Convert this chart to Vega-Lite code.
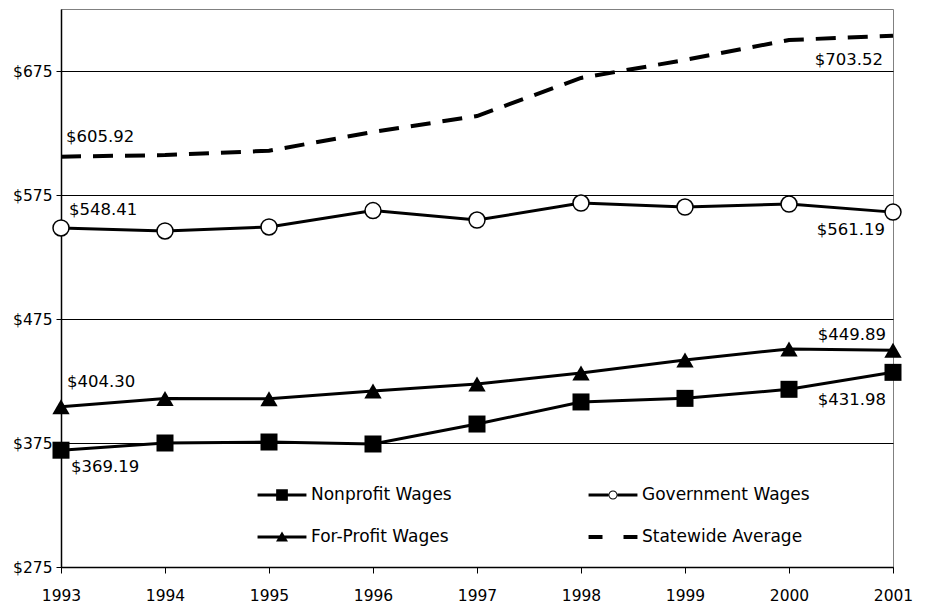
{
  "$schema": "https://vega.github.io/schema/vega-lite/v6.json",
  "autosize": {"type": "none"},
  "padding": {"left": 61, "top": 9, "right": 34, "bottom": 39},
  "width": 832,
  "height": 558,
  "background": "white",
  "config": {
    "font": "DejaVu Sans",
    "view": {"stroke": "#808080", "strokeWidth": 1},
    "axis": {"labelFont": "DejaVu Sans", "labelColor": "black", "domainColor": "black", "tickColor": "black", "titleFont": "DejaVu Sans"}
  },
  "data": {
    "values": [
      {"series": "Nonprofit Wages", "year": 1993, "value": 369.19},
      {"series": "Nonprofit Wages", "year": 1994, "value": 375.0},
      {"series": "Nonprofit Wages", "year": 1995, "value": 375.8},
      {"series": "Nonprofit Wages", "year": 1996, "value": 374.2},
      {"series": "Nonprofit Wages", "year": 1997, "value": 390.3},
      {"series": "Nonprofit Wages", "year": 1998, "value": 408.1},
      {"series": "Nonprofit Wages", "year": 1999, "value": 411.0},
      {"series": "Nonprofit Wages", "year": 2000, "value": 418.3},
      {"series": "Nonprofit Wages", "year": 2001, "value": 431.98},
      {"series": "Government Wages", "year": 1993, "value": 548.41},
      {"series": "Government Wages", "year": 1994, "value": 546.0},
      {"series": "Government Wages", "year": 1995, "value": 549.2},
      {"series": "Government Wages", "year": 1996, "value": 562.4},
      {"series": "Government Wages", "year": 1997, "value": 554.8},
      {"series": "Government Wages", "year": 1998, "value": 568.5},
      {"series": "Government Wages", "year": 1999, "value": 565.3},
      {"series": "Government Wages", "year": 2000, "value": 567.7},
      {"series": "Government Wages", "year": 2001, "value": 561.19},
      {"series": "For-Profit Wages", "year": 1993, "value": 404.30},
      {"series": "For-Profit Wages", "year": 1994, "value": 410.8},
      {"series": "For-Profit Wages", "year": 1995, "value": 410.7},
      {"series": "For-Profit Wages", "year": 1996, "value": 416.9},
      {"series": "For-Profit Wages", "year": 1997, "value": 422.6},
      {"series": "For-Profit Wages", "year": 1998, "value": 431.5},
      {"series": "For-Profit Wages", "year": 1999, "value": 441.9},
      {"series": "For-Profit Wages", "year": 2000, "value": 450.9},
      {"series": "For-Profit Wages", "year": 2001, "value": 449.89},
      {"series": "Statewide Average", "year": 1993, "value": 605.92},
      {"series": "Statewide Average", "year": 1994, "value": 607.2},
      {"series": "Statewide Average", "year": 1995, "value": 610.7},
      {"series": "Statewide Average", "year": 1996, "value": 625.8},
      {"series": "Statewide Average", "year": 1997, "value": 638.7},
      {"series": "Statewide Average", "year": 1998, "value": 669.4},
      {"series": "Statewide Average", "year": 1999, "value": 683.9},
      {"series": "Statewide Average", "year": 2000, "value": 700.0},
      {"series": "Statewide Average", "year": 2001, "value": 703.52}
    ]
  },
  "encoding": {
    "x": {
      "field": "year", "type": "quantitative",
      "scale": {"domain": [1993, 2001], "nice": false, "zero": false},
      "axis": {"title": null, "values": [1993, 1994, 1995, 1996, 1997, 1998, 1999, 2000, 2001], "format": "d", "grid": false, "labelFontSize": 15.5, "tickSize": 6, "labelPadding": 15, "domainWidth": 1.5, "labelFlush": false}
    },
    "y": {
      "field": "value", "type": "quantitative",
      "scale": {"domain": [275, 725], "nice": false, "zero": false},
      "axis": {"title": null, "values": [275, 375, 475, 575, 675], "format": "$.0f", "grid": true, "gridColor": "black", "gridWidth": 1, "labelFontSize": 15.5, "tickSize": 5, "labelPadding": 4, "domainWidth": 1.5, "labelFlush": false}
    }
  },
  "layer": [
    {
      "transform": [{"filter": "datum.series !== 'Statewide Average'"}],
      "mark": {"type": "line", "color": "black", "strokeWidth": 3},
      "encoding": {"detail": {"field": "series"}}
    },
    {
      "transform": [{"filter": "datum.series === 'Statewide Average'"}],
      "mark": {"type": "line", "color": "black", "strokeWidth": 4, "strokeDash": [20, 12]},
      "encoding": {}
    },
    {
      "transform": [{"filter": "datum.series === 'Nonprofit Wages'"}],
      "mark": {"type": "point", "shape": "square", "size": 289, "filled": true, "fill": "black", "opacity": 1, "strokeWidth": 0},
      "encoding": {}
    },
    {
      "transform": [{"filter": "datum.series === 'Government Wages'"}],
      "mark": {"type": "point", "shape": "circle", "size": 256, "filled": true, "fill": "white", "stroke": "black", "strokeWidth": 1.5, "opacity": 1},
      "encoding": {}
    },
    {
      "transform": [{"filter": "datum.series === 'For-Profit Wages'"}],
      "mark": {"type": "point", "shape": "triangle-up", "size": 300, "filled": true, "fill": "black", "opacity": 1, "strokeWidth": 0},
      "encoding": {}
    },
    {
      "transform": [{"filter": "datum.year < 0"}],
      "mark": {"type": "point", "filled": true, "color": "black", "strokeWidth": 0, "opacity": 1},
      "encoding": {
        "x": {"field": "year", "type": "quantitative"},
        "y": {"field": "value", "type": "quantitative"},
        "shape": {
          "field": "series", "type": "nominal",
          "scale": {
            "domain": ["Nonprofit Wages", "Government Wages", "For-Profit Wages", "Statewide Average"],
            "range": [
              "M-1.63,-0.1H1.63V0.1H-1.63ZM-0.39,-0.39H0.39V0.39H-0.39Z",
              "M-1.63,-0.1H-0.3V0.1H-1.63ZM0.3,-0.1H1.63V0.1H0.3ZM-0.3,0A0.3,0.3 0 1,0 0.3,0A0.3,0.3 0 1,0 -0.3,0ZM-0.24,0A0.24,0.24 0 1,1 0.24,0A0.24,0.24 0 1,1 -0.24,0Z",
              "M-1.63,-0.1H1.63V0.1H-1.63ZM0,-0.37L0.4,0.3L-0.4,0.3Z",
              "M-1.63,-0.13H-0.7V0.13H-1.63ZM0.7,-0.13H1.63V0.13H0.7Z"
            ]
          },
          "legend": {
            "title": null, "orient": "none", "legendX": 206, "legendY": 471, "columns": 2, "direction": "horizontal",
            "columnPadding": 136, "rowPadding": 19, "padding": 0, "symbolSize": 900, "symbolFillColor": "black", "symbolStrokeWidth": 0,
            "labelFont": "DejaVu Sans", "labelFontSize": 17, "labelColor": "black", "labelOffset": 14, "labelLimit": 300
          }
        }
      }
    },
    {
      "transform": [{"filter": "datum.series === 'Statewide Average' && datum.year === 1993"}],
      "mark": {"type": "text", "align": "left", "baseline": "middle", "dx": 5, "dy": -20, "fontSize": 16.5, "font": "DejaVu Sans", "color": "black"},
      "encoding": {"text": {"field": "value", "type": "quantitative", "format": "$.2f"}}
    },
    {
      "transform": [{"filter": "datum.series === 'Government Wages' && datum.year === 1993"}],
      "mark": {"type": "text", "align": "left", "baseline": "middle", "dx": 8, "dy": -18, "fontSize": 16.5, "font": "DejaVu Sans", "color": "black"},
      "encoding": {"text": {"field": "value", "type": "quantitative", "format": "$.2f"}}
    },
    {
      "transform": [{"filter": "datum.series === 'For-Profit Wages' && datum.year === 1993"}],
      "mark": {"type": "text", "align": "left", "baseline": "middle", "dx": 6, "dy": -25, "fontSize": 16.5, "font": "DejaVu Sans", "color": "black"},
      "encoding": {"text": {"field": "value", "type": "quantitative", "format": "$.2f"}}
    },
    {
      "transform": [{"filter": "datum.series === 'Nonprofit Wages' && datum.year === 1993"}],
      "mark": {"type": "text", "align": "left", "baseline": "middle", "dx": 10, "dy": 17, "fontSize": 16.5, "font": "DejaVu Sans", "color": "black"},
      "encoding": {"text": {"field": "value", "type": "quantitative", "format": "$.2f"}}
    },
    {
      "transform": [{"filter": "datum.series === 'Statewide Average' && datum.year === 2001"}],
      "mark": {"type": "text", "align": "right", "baseline": "middle", "dx": -10, "dy": 24, "fontSize": 16.5, "font": "DejaVu Sans", "color": "black"},
      "encoding": {"text": {"field": "value", "type": "quantitative", "format": "$.2f"}}
    },
    {
      "transform": [{"filter": "datum.series === 'Government Wages' && datum.year === 2001"}],
      "mark": {"type": "text", "align": "right", "baseline": "middle", "dx": -8, "dy": 18, "fontSize": 16.5, "font": "DejaVu Sans", "color": "black"},
      "encoding": {"text": {"field": "value", "type": "quantitative", "format": "$.2f"}}
    },
    {
      "transform": [{"filter": "datum.series === 'For-Profit Wages' && datum.year === 2001"}],
      "mark": {"type": "text", "align": "right", "baseline": "middle", "dx": -7, "dy": -15, "fontSize": 16.5, "font": "DejaVu Sans", "color": "black"},
      "encoding": {"text": {"field": "value", "type": "quantitative", "format": "$.2f"}}
    },
    {
      "transform": [{"filter": "datum.series === 'Nonprofit Wages' && datum.year === 2001"}],
      "mark": {"type": "text", "align": "right", "baseline": "middle", "dx": -7, "dy": 28, "fontSize": 16.5, "font": "DejaVu Sans", "color": "black"},
      "encoding": {"text": {"field": "value", "type": "quantitative", "format": "$.2f"}}
    }
  ]
}
